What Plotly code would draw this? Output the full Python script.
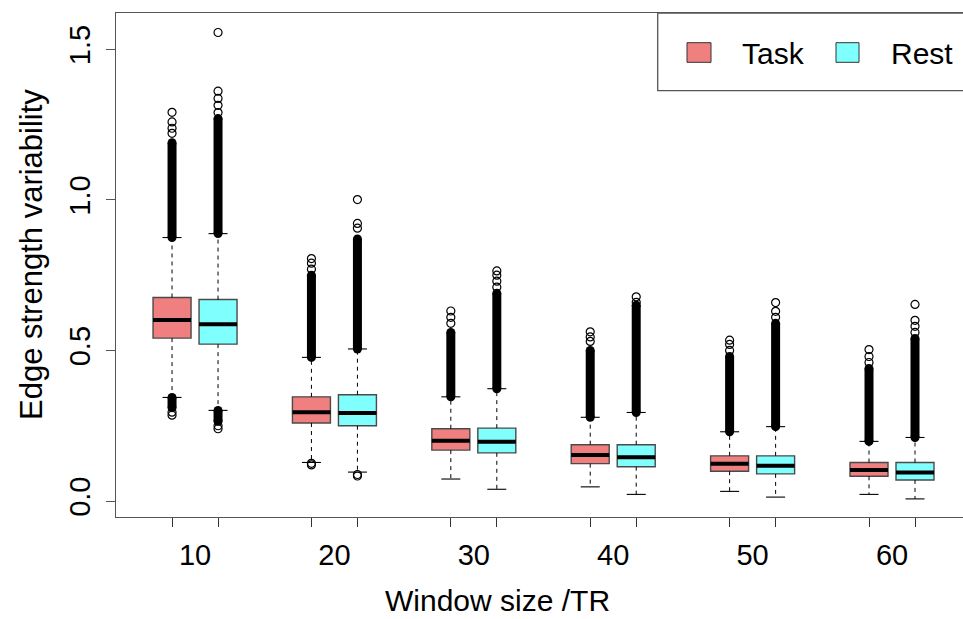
import plotly.graph_objects as go

# ---------------- data ----------------
groups = ["10", "20", "30", "40", "50", "60"]          # window size /TR
conditions = ["Task", "Rest"]

task_q1 = [0.541, 0.259, 0.169, 0.124, 0.099, 0.082]
task_median = [0.601, 0.295, 0.200, 0.153, 0.124, 0.103]
task_q3 = [0.676, 0.346, 0.240, 0.187, 0.150, 0.128]
task_lower_whisker = [0.344, 0.128, 0.073, 0.047, 0.032, 0.022]
task_upper_whisker = [0.875, 0.477, 0.346, 0.278, 0.230, 0.198]
task_dense_outlier_top = [1.19, 0.75, 0.56, 0.50, 0.48, 0.44]
task_sparse_outliers_high = [[1.221, 1.238, 1.259, 1.291], [0.77, 0.79, 0.805],
                             [0.59, 0.61, 0.631], [0.53, 0.545, 0.562],
                             [0.50, 0.52, 0.534], [0.46, 0.48, 0.503]]
task_dense_outlier_bottom = [0.31, None, None, None, None, None]
task_sparse_outliers_low = [[0.295, 0.285], [0.125, 0.12], [], [], [], []]

rest_q1 = [0.521, 0.250, 0.160, 0.114, 0.090, 0.070]
rest_median = [0.587, 0.292, 0.197, 0.145, 0.117, 0.095]
rest_q3 = [0.669, 0.353, 0.242, 0.187, 0.150, 0.128]
rest_lower_whisker = [0.301, 0.096, 0.039, 0.022, 0.013, 0.007]
rest_upper_whisker = [0.888, 0.505, 0.373, 0.294, 0.247, 0.211]
rest_dense_outlier_top = [1.27, 0.87, 0.69, 0.65, 0.59, 0.54]
rest_sparse_outliers_high = [[1.29, 1.314, 1.337, 1.361, 1.556], [0.906, 0.922, 1.001],
                             [0.71, 0.73, 0.75, 0.764], [0.66, 0.678],
                             [0.61, 0.63, 0.659], [0.56, 0.58, 0.60, 0.653]]
rest_dense_outlier_bottom = [0.265, None, None, None, None, None]
rest_sparse_outliers_low = [[0.25, 0.24], [0.088, 0.083], [], [], [], []]

y_tick_vals = [0.0, 0.5, 1.0, 1.5]
y_tick_text = ["0.0", "0.5", "1.0", "1.5"]

# ---------------- styling ----------------
FONT = "Liberation Sans, Arial, sans-serif"
task_color = "#F08080"
rest_color = "#80FFFF"
box_line = "#4a4a4a"
offset = 0.165
box_w = 0.2726
cap_w = box_w / 2

series = [
    dict(name="Task", color=task_color, off=-offset, q1=task_q1, med=task_median, q3=task_q3,
         lw=task_lower_whisker, uw=task_upper_whisker, dtop=task_dense_outlier_top,
         hi=task_sparse_outliers_high, dbot=task_dense_outlier_bottom, lo=task_sparse_outliers_low),
    dict(name="Rest", color=rest_color, off=offset, q1=rest_q1, med=rest_median, q3=rest_q3,
         lw=rest_lower_whisker, uw=rest_upper_whisker, dtop=rest_dense_outlier_top,
         hi=rest_sparse_outliers_high, dbot=rest_dense_outlier_bottom, lo=rest_sparse_outliers_low),
]

fig = go.Figure()
all_pos = []
for s in series:
    pos = [i + s["off"] for i in range(len(groups))]
    all_pos += pos
    # dashed whiskers
    wx, wy = [], []
    for p, a, b, c, d in zip(pos, s["q3"], s["uw"], s["q1"], s["lw"]):
        wx += [p, p, None, p, p, None]
        wy += [a, b, None, c, d, None]
    fig.add_trace(go.Scatter(x=wx, y=wy, mode="lines", showlegend=False, hoverinfo="skip",
                             line=dict(color="black", width=1, dash="4px,4px")))
    # whisker caps
    cx, cy = [], []
    for p, b, d in zip(pos, s["uw"], s["lw"]):
        cx += [p - cap_w / 2, p + cap_w / 2, None, p - cap_w / 2, p + cap_w / 2, None]
        cy += [b, b, None, d, d, None]
    fig.add_trace(go.Scatter(x=cx, y=cy, mode="lines", showlegend=False, hoverinfo="skip",
                             line=dict(color="black", width=1.1)))
    # dense outlier columns (drawn as thick black bands)
    dx, dy, ex, ey = [], [], [], []
    for p, b, t, d, bot in zip(pos, s["uw"], s["dtop"], s["lw"], s["dbot"]):
        dx += [p, p, None]
        dy += [b, t, None]
        ex += [p, p]
        ey += [b, t]
        if bot is not None:
            dx += [p, p, None]
            dy += [d, bot, None]
            ex += [p, p]
            ey += [d, bot]
    fig.add_trace(go.Scatter(x=dx, y=dy, mode="lines", showlegend=False, hoverinfo="skip",
                             line=dict(color="black", width=9)))
    fig.add_trace(go.Scatter(x=ex, y=ey, mode="markers", showlegend=False, hoverinfo="skip",
                             marker=dict(symbol="circle", size=9, color="black")))
    # sparse outliers (open circles)
    ox, oy = [], []
    for p, h, l in zip(pos, s["hi"], s["lo"]):
        for v in h + l:
            ox.append(p)
            oy.append(v)
    fig.add_trace(go.Scatter(x=ox, y=oy, mode="markers", showlegend=False, hoverinfo="skip",
                             marker=dict(symbol="circle-open", size=8, color="black",
                                         line=dict(width=1.2, color="#222"))))
    # boxes
    fig.add_trace(go.Box(x=pos, q1=s["q1"], median=s["med"], q3=s["q3"],
                         lowerfence=s["q1"], upperfence=s["q3"], whiskerwidth=0,
                         width=box_w, fillcolor=s["color"], line=dict(color=box_line, width=1.4),
                         showlegend=False, hoverinfo="skip", boxpoints=False))
    # thick medians
    mx, my = [], []
    for p, m in zip(pos, s["med"]):
        mx += [p - box_w / 2, p + box_w / 2, None]
        my += [m, m, None]
    fig.add_trace(go.Scatter(x=mx, y=my, mode="lines", showlegend=False, hoverinfo="skip",
                             line=dict(color="black", width=4)))

# ---------------- layout geometry ----------------
W, H = 963, 619
L, R, T, B = 116, 0, 13, 102
plot_w = W - L - R
plot_h = H - T - B

def px_x(x):
    return (x - L) / plot_w

def px_y(y):
    return (H - B - y) / plot_h

shapes = []
annotations = []
# legend box
shapes.append(dict(type="rect", xref="paper", yref="paper", x0=px_x(657.7), x1=1.02,
                   y0=px_y(90.7), y1=1.0, line=dict(color="#555", width=1.3), fillcolor="white",
                   layer="above"))
leg_items = [(conditions[0], task_color, 687, 711, 740), (conditions[1], rest_color, 836, 859, 889)]
for name, col, sx0, sx1, tx in leg_items:
    shapes.append(dict(type="rect", xref="paper", yref="paper", x0=px_x(sx0), x1=px_x(sx1),
                       y0=px_y(62.3), y1=px_y(42.7), fillcolor=col,
                       line=dict(color="#333", width=1), layer="above"))
    annotations.append(dict(text=name, xref="paper", yref="paper", x=px_x(tx), y=px_y(53),
                            xanchor="left", yanchor="middle", showarrow=False,
                            font=dict(family=FONT, size=30, color="black")))
# axis titles
annotations.append(dict(text="Window size /TR", xref="paper", yref="paper",
                        x=px_x(497), y=px_y(600), xanchor="center", yanchor="middle",
                        showarrow=False, font=dict(family=FONT, size=30, color="black")))
annotations.append(dict(text="Edge strength variability", xref="paper", yref="paper",
                        x=px_x(32), y=px_y(255), xanchor="center", yanchor="middle",
                        textangle=-90, showarrow=False,
                        font=dict(family=FONT, size=31, color="black")))

fig.update_layout(
    width=W, height=H,
    margin=dict(l=L, r=R, t=T, b=B),
    paper_bgcolor="white", plot_bgcolor="white",
    boxmode="overlay",
    showlegend=False,
    shapes=shapes,
    annotations=annotations,
    font=dict(family=FONT, color="black"),
    xaxis=dict(range=[-0.567, (W - R - 195) / 139.4], tickmode="array",
               tickvals=list(range(len(groups))), ticktext=groups, ticks="",
               ticklabelstandoff=12,
               minor=dict(tickmode="array", tickvals=all_pos, ticks="outside", ticklen=9,
                          tickwidth=1, tickcolor="#333", showgrid=False),
               showgrid=False, zeroline=False, showline=True, linecolor="#555", linewidth=1.3,
               mirror=True, tickfont=dict(family=FONT, size=29, color="black"), fixedrange=True),
    yaxis=dict(range=[-0.0531, 1.6207], tickmode="array", tickvals=y_tick_vals,
               ticktext=y_tick_text, ticks="outside", ticklen=9, tickwidth=1, tickcolor="#555",
               tickangle=-90, ticklabelstandoff=4,
               showgrid=False, zeroline=False, showline=True, linecolor="#555", linewidth=1.3,
               tickfont=dict(family=FONT, size=29, color="black"), fixedrange=True),
)

fig.write_html("out.html", config={"displayModeBar": False},
               post_script="document.body.style.margin='0';document.body.style.overflow='hidden';")
